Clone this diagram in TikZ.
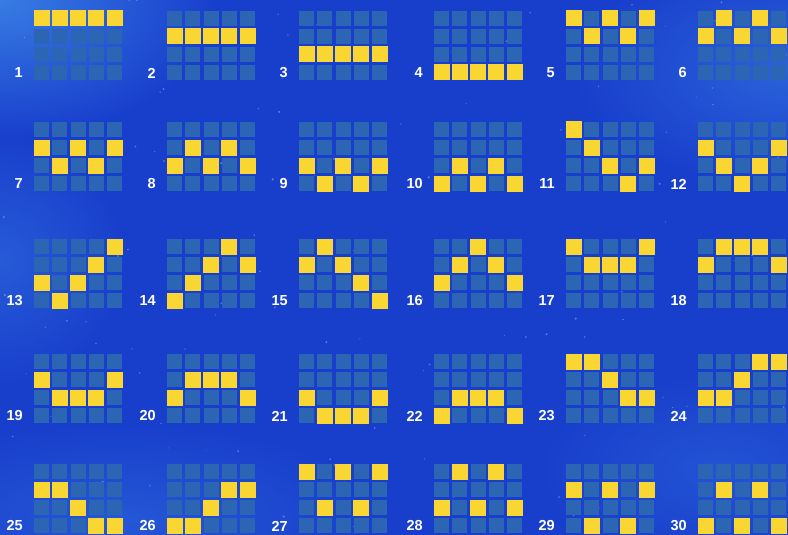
\documentclass[tikz,border=0pt]{standalone}
\usepackage{fontspec}
\setmainfont{Liberation Sans}
\usetikzlibrary{fadings}
\definecolor{bgblue}{RGB}{24,62,204}
\definecolor{bglight}{RGB}{62,135,232}
\definecolor{cellblue}{RGB}{43,101,180}
\definecolor{lineyellow}{RGB}{250,214,50}
\tikzfading[name=glowfade, inner color=transparent!0, outer color=transparent!100]
\tikzset{
  cellbox/.style={fill=cellblue},
  hitbox/.style={fill=lineyellow},
  glow/.style={fill=bglight, path fading=glowfade},
  speck/.style={fill=white, opacity=0.3},
  numlabel/.style={text=white, font=\bfseries\fontsize{14.5}{14.5}\selectfont, anchor=east, inner sep=0pt},
}
\begin{document}
\begin{tikzpicture}[x=1pt,y=-1pt]
\fill[bgblue] (0,0) rectangle (788,535);
\useasboundingbox (0,0) rectangle (788,535);
% soft background glows
\begin{scope}
\clip (0,0) rectangle (788,535);
\fill[glow, opacity=0.85] (0,0) ellipse (220 and 140);
\fill[glow, opacity=0.4] (0,260) ellipse (130 and 130);
\fill[glow, opacity=0.5] (788,70) ellipse (220 and 120);
\fill[glow, opacity=0.35] (120,520) ellipse (280 and 100);
\fill[glow, opacity=0.3] (720,470) ellipse (190 and 100);
\pgfmathsetseed{4242}
\foreach \i in {1,...,140}{
  \pgfmathsetmacro\sx{rnd*788}
  \pgfmathsetmacro\sy{rnd*535}
  \pgfmathsetmacro\sr{0.4+rnd*0.8}
  \fill[speck] (\sx,\sy) circle (\sr);
}
\end{scope}
% paylines
\foreach \n/\pat in {
  1/{0,0,0,0,0}, 2/{1,1,1,1,1}, 3/{2,2,2,2,2}, 4/{3,3,3,3,3}, 5/{0,1,0,1,0}, 6/{1,0,1,0,1},
  7/{1,2,1,2,1}, 8/{2,1,2,1,2}, 9/{2,3,2,3,2}, 10/{3,2,3,2,3}, 11/{0,1,2,3,2}, 12/{1,2,3,2,1},
  13/{2,3,2,1,0}, 14/{3,2,1,0,1}, 15/{1,0,1,2,3}, 16/{2,1,0,1,2}, 17/{0,1,1,1,0}, 18/{1,0,0,0,1},
  19/{1,2,2,2,1}, 20/{2,1,1,1,2}, 21/{2,3,3,3,2}, 22/{3,2,2,2,3}, 23/{0,0,1,2,2}, 24/{2,2,1,0,0},
  25/{1,1,2,3,3}, 26/{3,3,2,1,1}, 27/{0,2,0,2,0}, 28/{2,0,2,0,2}, 29/{1,3,1,3,1}, 30/{3,1,3,1,3}}{
  \pgfmathtruncatemacro\idx{\n-1}
  \pgfmathtruncatemacro\gc{mod(\idx,6)}
  \pgfmathtruncatemacro\gr{div(\idx,6)}
  \pgfmathsetmacro\gx{{34,167,299,434,566,698}[\gc]}
  \pgfmathsetmacro\gy{{11,122,239,354,464}[\gr]}
  \foreach \c in {0,...,4}{
    \foreach \r in {0,...,3}{
      \fill[cellbox] (\gx+\c*18.25,\gy+\r*18) rectangle ++(15,15);
    }
  }
  \foreach \r [count=\cc from 0] in \pat {
    \fill[hitbox] (\gx+\cc*18.25-0.5,\gy+\r*18-0.5) rectangle ++(16,16);
  }
  \node[numlabel] (lbl\n) at (\gx-11,\gy+62) {\n};
}
\end{tikzpicture}
\end{document}
